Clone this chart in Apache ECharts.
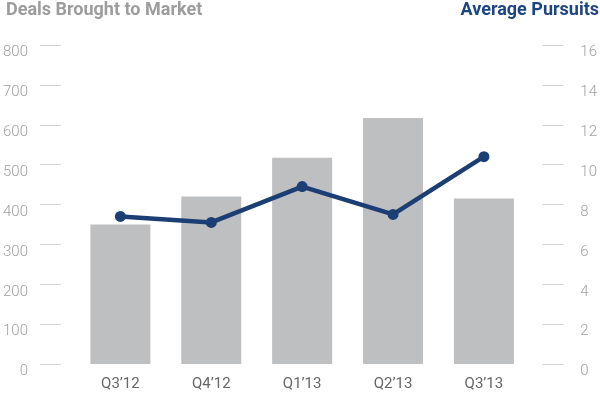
<!DOCTYPE html>
<html>
<head>
<meta charset="utf-8">
<script src="https://cdn.jsdelivr.net/npm/echarts@6/dist/echarts.min.js"></script>
<style>
  html, body { margin: 0; padding: 0; background: #fff; }
  #chart { width: 600px; height: 399px; }
</style>
</head>
<body>
<div id="chart"></div>
<script>
const quarters = ['Q3’12', 'Q4’12', 'Q1’13', 'Q2’13', 'Q3’13']
const deals = [350, 420, 517, 617, 415]
const pursuits = [7.4, 7.1, 8.9, 7.5, 10.4]

const tickStyle = { show: true, inside: false, length: 21, lineStyle: { color: '#d2d2d2', width: 1 } }
const labelBase = { color: '#a0a0a0', fontFamily: 'Roboto', fontWeight: 300, fontSize: 15, verticalAlign: 'top' }

const chart = echarts.init(document.getElementById('chart'))
chart.setOption({
  animation: false,
  backgroundColor: '#fff',
  title: [
    {
      text: 'Deals Brought to Market',
      left: 1, top: -4,
      textStyle: { color: '#9c9c9c', fontFamily: 'Roboto', fontWeight: 'bold', fontSize: 18 },
    },
    {
      text: 'Average Pursuits',
      right: -4, top: -4,
      textStyle: { color: '#1d4582', fontFamily: 'Roboto', fontWeight: 'bold', fontSize: 18 },
    },
  ],
  grid: { left: 71, right: 64, top: 45, bottom: 35 },
  xAxis: {
    type: 'category',
    data: quarters,
    axisLine: { show: false },
    axisTick: { show: false },
    axisLabel: { color: '#666', fontFamily: 'Roboto', fontSize: 15, margin: 13 },
  },
  yAxis: [
    {
      type: 'value',
      min: 0, max: 800, interval: 100,
      position: 'left',
      offset: 14,
      axisLine: { show: false },
      axisTick: tickStyle,
      splitLine: { show: false },
      axisLabel: Object.assign({ margin: 33 }, labelBase),
    },
    {
      type: 'value',
      min: 0, max: 16, interval: 2,
      position: 'right',
      offset: 13,
      axisLine: { show: false },
      axisTick: tickStyle,
      splitLine: { show: false },
      axisLabel: Object.assign({ margin: 38 }, labelBase),
    },
  ],
  series: [
    {
      name: 'Deals Brought to Market',
      type: 'bar',
      data: deals,
      barWidth: 60,
      itemStyle: { color: '#bebfc1' },
    },
    {
      name: 'Average Pursuits',
      type: 'line',
      yAxisIndex: 1,
      data: pursuits,
      symbol: 'circle',
      symbolSize: 11,
      lineStyle: { color: '#1b3f74', width: 4.5 },
      itemStyle: { color: '#1b3f74' },
    },
  ],
})
</script>
</body>
</html>
